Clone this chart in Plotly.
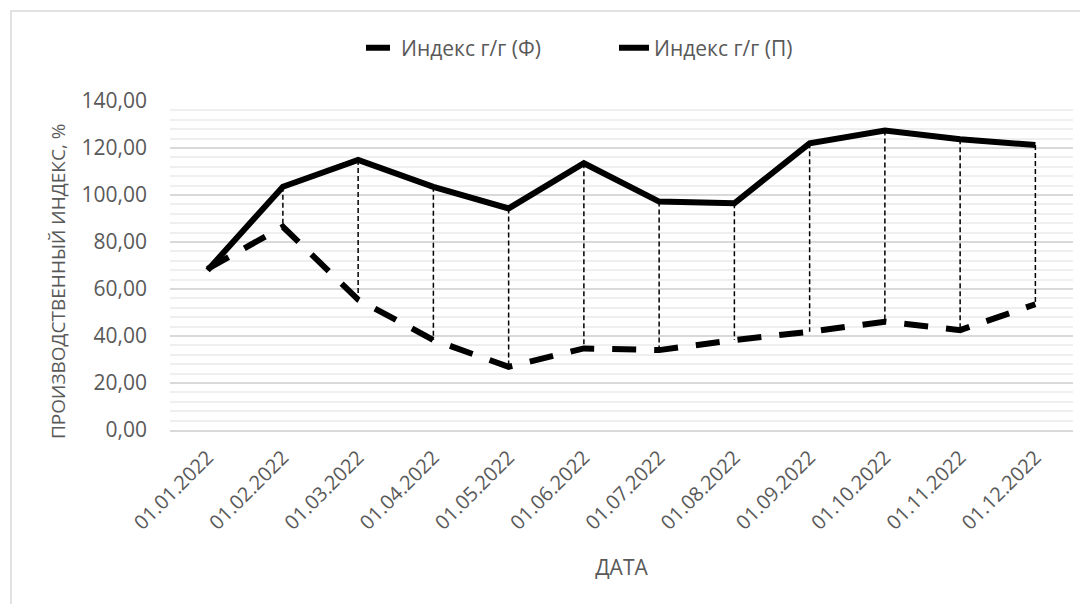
import plotly.graph_objects as go

dates = ["01.01.2022", "01.02.2022", "01.03.2022", "01.04.2022", "01.05.2022", "01.06.2022",
         "01.07.2022", "01.08.2022", "01.09.2022", "01.10.2022", "01.11.2022", "01.12.2022"]
fact = [68.6, 86.5, 55.5, 38.3, 26.9, 34.7, 34.0, 38.3, 41.8, 46.1, 42.5, 53.5]
plan = [68.0, 103.5, 114.9, 103.5, 94.3, 113.5, 97.2, 96.5, 122.0, 127.4, 123.7, 121.3]
name_fact = "Индекс г/г (Ф)"
name_plan = "Индекс г/г (П)"
y_title = "ПРОИЗВОДСТВЕННЫЙ ИНДЕКС, %"
x_title = "ДАТА"

FONT = "Open Sans"
GREY = "#595959"

# high-low lines between the two series
hl_x, hl_y = [], []
for d, f, p in zip(dates, fact, plan):
    hl_x += [d, d, None]
    hl_y += [max(f, p), min(f, p), None]

fig = go.Figure()
fig.add_trace(go.Scatter(x=hl_x, y=hl_y, mode="lines", showlegend=False, hoverinfo="skip",
                         line=dict(color="black", width=1.5, dash="5px,3px")))
fig.add_trace(go.Scatter(x=dates, y=fact, mode="lines", name=name_fact, legend="legend",
                         line=dict(color="black", width=6, dash="24px,18px")))
fig.add_trace(go.Scatter(x=dates, y=plan, mode="lines", name=name_plan, legend="legend2",
                         line=dict(color="black", width=6)))

OFF = 8  # browser default body margin
W, H = 1088 - OFF, 604 - OFF
L, T = 170 - OFF, 101 - OFF
pw, ph = 903, 329
R = W - L - pw
B = H - T - ph


def px(x):
    return (x - OFF - L) / pw


def py(y):
    return (H - B - (y - OFF)) / ph


fig.add_shape(type="rect", xref="paper", yref="paper",
              x0=px(11), x1=px(1120), y0=py(650), y1=py(11),
              line=dict(color="#d9d9d9", width=1.5), fillcolor="rgba(0,0,0,0)", layer="below")

fig.add_annotation(text=y_title, xref="paper", yref="paper", x=px(58), y=py(281),
                   xanchor="center", yanchor="middle", textangle=-90, showarrow=False,
                   font=dict(size=19, color=GREY, family=FONT))

leg_common = dict(orientation="h", yanchor="middle", xanchor="left",
                  font=dict(size=21, color=GREY), bgcolor="rgba(0,0,0,0)")

fig.update_layout(
    width=W, height=H,
    margin=dict(l=L, r=R, t=T, b=B, autoexpand=False),
    paper_bgcolor="white", plot_bgcolor="white",
    separators=", ",
    font=dict(family=FONT, color=GREY, size=21),
    legend=dict(x=px(402 - 41), y=py(48), **leg_common),
    legend2=dict(x=px(655 - 41), y=py(48), **leg_common),
    xaxis=dict(type="category", range=[-0.5, 11.5], showgrid=False, tickangle=-45,
               showline=True, linecolor="#d9d9d9", linewidth=1.5, ticks="",
               tickfont=dict(size=20, color=GREY), ticklabelstandoff=6,
               title=dict(text=x_title, font=dict(size=21, color=GREY), standoff=26),
               automargin=False),
    yaxis=dict(range=[0, 140], dtick=20, tickformat=".2f", showgrid=True,
               gridcolor="#d9d9d9", gridwidth=1.5, zeroline=False, ticks="",
               minor=dict(dtick=4, showgrid=True, gridcolor="#efefef", gridwidth=1.5),
               tickfont=dict(size=21, color=GREY), ticklabelstandoff=22,
               automargin=False),
)

fig.write_html("out.html")
